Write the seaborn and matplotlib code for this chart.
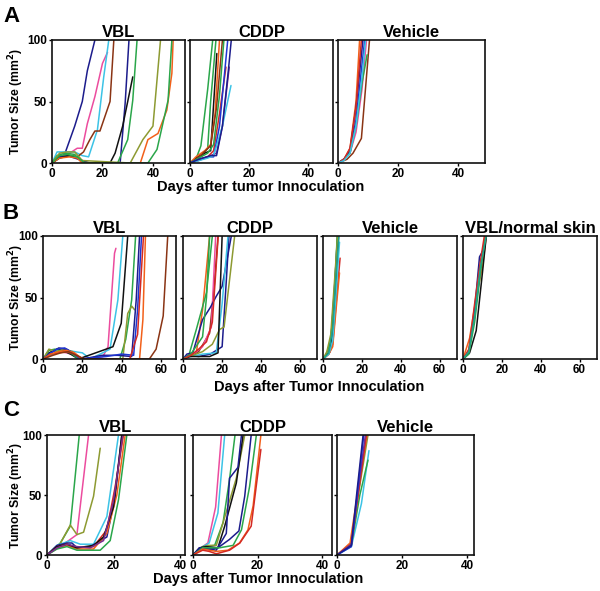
import re

import matplotlib
matplotlib.use("Agg")
import matplotlib.pyplot as plt
import seaborn as sns
import pandas as pd

# colour of each mouse trace (keys are used as mouse ids, digits stripped)
COLORS = {
    "navy": "#1c1c8c", "blue": "#2036d2", "cyan": "#3cc3e6", "pink": "#ec4c9e",
    "brown": "#8a3414", "black": "#111111", "green": "#2aa64a", "olive": "#8d9a32",
    "orange": "#f2601a", "red": "#d42a24", "purple": "#7a2c8c", "teal": "#1fa38a",
}

# ---- panel A: days after inoculation, tumour size (mm^2) ----
A_VBL = {
    "navy1": ([0, 2, 5, 9, 12, 14, 17], [0, 3, 7, 30, 50, 75, 100]),
    "pink": ([0, 3, 7, 10, 12, 14, 17, 20, 22], [0, 5, 8, 12, 12, 32, 54, 81, 90]),
    "cyan": ([0, 2, 5, 9, 12, 14.5, 18, 20.5, 22.5], [0, 9, 9, 9, 6, 5, 27, 70, 100]),
    "brown": ([0, 3, 7, 10, 12.5, 15, 17, 19, 23, 24.5], [0, 5, 6, 5, 9, 19, 26, 26, 50, 100]),
    "navy2": ([0, 3, 6, 9, 12, 15, 27, 29, 30.5], [0, 5, 6, 4, 2, 0, 0, 49, 100]),
    "black": ([0, 3, 7, 10, 13, 23, 25, 28, 32], [0, 4, 6, 5, 0, 0, 8, 30, 70]),
    "green1": ([0, 2, 5, 9, 12, 26, 30, 32, 33.7], [0, 6, 8, 7, 0, 0, 19, 51, 100]),
    "olive": ([0, 3, 6, 9, 12, 31, 36, 40, 43], [0, 8, 9, 9, 2, 0, 19, 30, 100]),
    "orange": ([0, 3, 7, 10, 12, 35, 38, 42, 45.5, 47.5, 48], [0, 4, 5, 4, 0, 0, 19, 24, 43, 73, 100]),
    "green2": ([0, 3, 6, 10, 13, 38, 41.6, 46, 47.5], [0, 6, 7, 5, 0, 0, 11, 51, 100]),
}
A_CDDP = {
    "green1": ([0, 2, 3.7, 6, 7.7], [0, 3, 14, 60, 100]),
    "green2": ([0, 2, 4, 6, 7, 8.8], [0, 3, 6, 12, 50, 100]),
    "black": ([0, 2, 5, 7, 9.1], [0, 4, 8, 10, 89]),
    "orange": ([0, 2, 5, 7, 8.5, 10], [0, 5, 10, 15, 40, 100]),
    "brown": ([0, 2, 4, 7, 9, 11], [0, 3, 7, 14, 45, 100]),
    "red": ([0, 3, 6, 8, 10, 12.2], [0, 3, 5, 10, 40, 78]),
    "green3": ([0, 3, 6, 8, 10, 11.5], [0, 4, 8, 15, 55, 100]),
    "blue": ([0, 3, 6, 8, 10, 12.8], [0, 3, 5, 5, 30, 100]),
    "purple": ([0, 3, 6, 9, 11, 13.3], [0, 2, 5, 8, 30, 78]),
    "cyan": ([0, 3, 6, 8, 11, 13.9], [0, 2, 4, 6, 30, 63]),
    "navy": ([0, 3, 7, 9, 11, 13, 14], [0, 3, 6, 6, 30, 75, 100]),
}
A_VEH = {
    "brown": ([0, 3, 5, 7.8, 10.5], [0, 3, 8, 20, 100]),
    "pink": ([0, 2.8, 4, 6, 8, 9.5], [0, 5, 8, 25, 60, 100]),
    "orange": ([0, 2, 4, 6, 7.2], [0, 3, 12, 50, 100]),
    "blue": ([0, 2, 4, 6, 8, 8.9], [0, 3, 10, 35, 80, 100]),
    "navy": ([0, 2, 4, 6, 8.3], [0, 3, 10, 45, 100]),
    "green": ([0, 2, 4, 6, 8, 9.7], [0, 3, 8, 30, 65, 88]),
    "red": ([0, 2, 4, 6, 7.8], [0, 3, 12, 45, 100]),
    "cyan": ([0, 2, 4, 6, 8, 9.2], [0, 2, 8, 30, 70, 100]),
}

# ---- panel B ----
B_VBL = {
    "pink": ([0, 4, 8, 12, 16, 20, 30.4, 33, 36.3, 37], [0, 4, 6, 5, 3, 0, 2, 10, 86, 90]),
    "cyan": ([0, 4, 8, 12, 16, 20, 24, 34, 38, 40.5], [0, 3, 6, 7, 6, 5, 0, 8, 48, 100]),
    "black": ([0, 3, 7, 10, 14, 18, 35.5, 39.7, 43], [0, 5, 8, 7, 4, 0, 10, 29, 100]),
    "green": ([0, 3, 6, 10, 14, 18, 39, 42, 45, 47], [0, 7, 8, 6, 5, 0, 0, 16, 48, 100]),
    "olive": ([0, 3, 7, 11, 15, 19, 40.5, 43, 45, 46.5], [0, 8, 6, 8, 6, 0, 0, 37, 43, 40]),
    "navy1": ([0, 4, 8, 12, 16, 20, 30, 38, 45, 47.3, 49], [0, 5, 9, 8, 4, 0, 3, 3, 2, 48, 100]),
    "blue": ([0, 3, 7, 11, 15, 19, 32, 40, 46, 48, 50], [0, 4, 8, 9, 5, 0, 2, 4, 3, 40, 100]),
    "red": ([0, 4, 8, 12, 16, 20, 44, 48, 51], [0, 4, 5, 6, 4, 0, 0, 20, 100]),
    "orange": ([0, 4, 8, 12, 16, 20, 49, 50.7, 52], [0, 4, 6, 7, 5, 0, 0, 32, 100]),
    "brown": ([0, 5, 9, 13, 17, 21, 54, 57.4, 61, 63.3], [0, 3, 5, 6, 3, 0, 0, 8, 35, 100]),
}
B_CDDP = {
    "orange": ([0, 3, 6.8, 10, 13.6], [0, 2, 5, 40, 100]),
    "green1": ([0, 3, 6.8, 12, 15], [0, 3, 24, 54, 100]),
    "brown": ([0, 4, 8, 13.6, 16, 17.9], [0, 3, 6, 21, 60, 100]),
    "pink": ([0, 4, 7, 10, 14.5, 16.7], [0, 3, 6, 10, 26, 100]),
    "navy1": ([0, 2, 5, 10, 14, 17, 20, 24.7], [0, 4, 5, 32, 42, 51, 59, 100]),
    "navy2": ([0, 3, 8, 14, 20, 22, 23.5], [0, 3, 2, 4, 10, 60, 100]),
    "cyan": ([0, 4, 10, 17, 20, 23], [0, 2, 4, 5, 45, 100]),
    "olive": ([0, 5, 10, 15, 18.7, 21, 26.4], [0, 3, 6, 12, 24, 26, 100]),
    "black": ([0, 3.4, 13.6, 17.9, 20], [0, 2, 2, 5, 100]),
    "green2": ([0, 4, 10, 12, 13.6], [0, 4, 18, 50, 100]),
    "red": ([0, 4, 8, 12, 15, 18], [0, 3, 8, 14, 30, 100]),
}
B_VEH = {
    "navy": ([0, 3.7, 6, 7.5], [0, 6, 60, 100]),
    "green": ([0, 2, 4, 6, 7.3], [0, 5, 15, 55, 100]),
    "red": ([0, 3, 5, 7, 8.8], [0, 4, 12, 50, 82]),
    "orange": ([0, 3, 5, 7, 8.5], [0, 4, 10, 45, 70]),
    "black": ([0, 3, 5, 7, 8], [0, 5, 20, 70, 100]),
    "cyan": ([0, 3, 5, 7, 8.5], [0, 4, 15, 60, 95]),
    "olive": ([0, 2, 4, 6, 7.5], [0, 6, 20, 65, 100]),
    "teal": ([0, 3, 5, 7, 8.2], [0, 5, 25, 75, 100]),
}
B_VBLNS = {
    "orange": ([0, 3.4, 6.8, 10, 12], [0, 17, 50, 75, 100]),
    "navy": ([0, 3, 6, 8.5, 10.2, 12], [0, 6, 40, 83, 88, 100]),
    "black": ([0, 3.4, 6.8, 10, 12], [0, 5, 23, 70, 100]),
    "green": ([0, 3, 6, 9, 11.5], [0, 4, 30, 70, 100]),
    "red": ([0, 3, 6, 9, 11], [0, 8, 45, 80, 100]),
    "teal": ([0, 3, 6, 9, 12], [0, 6, 35, 75, 100]),
}

# ---- panel C ----
C_VBL = {
    "green1": ([0, 4, 7, 9.7], [0, 10, 24, 100]),
    "pink": ([0, 4, 9, 12.5], [0, 7, 17, 100]),
    "olive": ([0, 3.5, 7, 9, 11, 14, 16], [0, 7, 25, 17, 19, 49, 89]),
    "cyan": ([0, 3, 7, 10, 14, 18, 21.5], [0, 8, 12, 9, 9, 32, 100]),
    "navy": ([0, 3, 6, 7.5, 9, 13, 18, 20.5, 22.5], [0, 8, 10, 10, 6, 7, 15, 49, 100]),
    "red": ([0, 3, 6, 9, 14, 18, 20.5, 23], [0, 7, 9, 6, 7, 21, 57, 100]),
    "orange": ([0, 3, 6, 9, 14, 18, 21, 23.5], [0, 6, 8, 5, 5, 18, 50, 100]),
    "green2": ([0, 3, 6, 9, 16, 19, 21.5, 24], [0, 5, 7, 4, 4, 12, 46, 100]),
    "black": ([0, 3, 6, 9, 14, 17, 20, 22.5], [0, 7, 9, 6, 8, 15, 40, 100]),
    "purple": ([0, 3, 6, 9, 13, 17, 20, 22.8], [0, 6, 9, 7, 6, 12, 45, 100]),
}
C_CDDP = {
    "pink": ([0, 2.5, 4.6, 7, 8.8], [0, 6, 10, 40, 100]),
    "cyan": ([0, 2.5, 5, 7.7, 9.8], [0, 6, 10, 35, 100]),
    "green1": ([0, 3, 6.7, 9.3, 11.3, 13], [0, 7, 8, 27, 63, 100]),
    "olive": ([0, 2, 4.6, 7.2, 13.4, 16], [0, 5, 8, 8, 64, 100]),
    "black": ([0, 2, 4, 7.7, 9.8, 13.4, 15.5], [0, 6, 7, 6, 24, 60, 100]),
    "navy1": ([0, 2, 5, 7.2, 10.3, 11.3, 13.9, 15], [0, 6, 5, 4, 18, 64, 73, 100]),
    "navy2": ([0, 2, 5, 7.7, 11.3, 14.2, 16, 18], [0, 5, 5, 6, 13, 20, 49, 100]),
    "green2": ([0, 3, 5, 8.2, 12.4, 15, 17.5, 19.6], [0, 6, 6, 6, 8, 21, 57, 100]),
    "orange": ([0, 3, 5, 7.2, 10.8, 14.4, 17, 18.6, 21], [0, 5, 4, 3, 4, 10, 21, 41, 100]),
    "red": ([0, 3, 5, 7.2, 11.3, 14.5, 18, 21], [0, 4, 3, 1, 4, 10, 24, 88]),
}
C_VEH = {
    "cyan": ([0, 4.4, 7.5, 9.8], [0, 7, 43, 87]),
    "green": ([0, 4.4, 7, 9.5], [0, 8, 50, 79]),
    "olive": ([0, 4.4, 6.5, 9.5], [0, 10, 50, 100]),
    "orange": ([0, 4, 6.5, 9.2], [0, 10, 55, 100]),
    "red": ([0, 4.4, 6.5, 9], [0, 9, 50, 100]),
    "purple": ([0, 4.4, 6.5, 8.7], [0, 9, 55, 100]),
    "blue": ([0, 4.4, 6, 8.2], [0, 7, 45, 100]),
    "navy": ([0, 4.4, 6, 8], [0, 8, 50, 100]),
}

sns.set_style("ticks")
plt.rcParams["font.family"] = ["Liberation Sans", "DejaVu Sans"]
plt.rcParams["font.weight"] = "bold"
plt.rcParams["text.color"] = "black"
plt.rcParams["xtick.color"] = "black"
plt.rcParams["ytick.color"] = "black"

W, H = 600, 591
fig = plt.figure(figsize=(6.0, 5.91), dpi=100)


def to_long(series):
    rows = []
    for mouse, (days, sizes) in series.items():
        for d, s in zip(days, sizes):
            rows.append({"mouse": mouse, "day": d, "size": s})
    return pd.DataFrame(rows)


def panel(left, right, top, bottom, series, xmax, xticks, title, show_y):
    ax = fig.add_axes([left / W, 1 - bottom / H, (right - left) / W, (bottom - top) / H])
    df = to_long(series)
    pal = {k: COLORS[re.sub(r"\d+$", "", k)] for k in series}
    sns.lineplot(data=df, x="day", y="size", hue="mouse", palette=pal,
                 estimator=None, sort=False, legend=False, lw=1.1, ax=ax)
    ax.set_xlim(0, xmax)
    ax.set_ylim(0, 100)
    ax.set_xticks(xticks)
    ax.set_yticks([0, 50, 100])
    if not show_y:
        ax.set_yticklabels([])
    ax.set_xlabel("")
    ax.set_ylabel("")
    ax.set_title(title, fontsize=12, fontweight="bold", pad=2, color="black")
    for sp in ax.spines.values():
        sp.set_visible(True)
        sp.set_linewidth(1.2)
        sp.set_color("#111111")
    ax.tick_params(direction="out", length=2.5, width=1, labelsize=8.5, pad=1.2)
    return ax


# row A
panel(52, 185, 40, 163, A_VBL, 52.7, [0, 20, 40], "VBL", True)
panel(190, 333, 40, 163, A_CDDP, 48.5, [0, 20, 40], "CDDP", False)
panel(338, 485, 40, 163, A_VEH, 49, [0, 20, 40], "Vehicle", False)

# row B
panel(43, 176, 236, 359, B_VBL, 67.5, [0, 20, 40, 60], "VBL", True)
panel(183, 317, 236, 359, B_CDDP, 68.5, [0, 20, 40, 60], "CDDP", False)
panel(323, 457, 236, 359, B_VEH, 69, [0, 20, 40, 60], "Vehicle", False)
panel(463, 597, 236, 359, B_VBLNS, 69, [0, 20, 40, 60], "VBL/normal skin", False)

# row C
panel(47, 185, 435, 555, C_VBL, 41.5, [0, 20, 40], "VBL", True)
panel(193, 332, 435, 555, C_CDDP, 43, [0, 20, 40], "CDDP", False)
panel(337, 474, 435, 555, C_VEH, 42, [0, 20, 40], "Vehicle", False)

# shared labels
for ytop, ybot in [(40, 163), (236, 359), (435, 555)]:
    fig.text(16 / W, 1 - (ytop + ybot) / 2 / H, "Tumor Size (mm$^\\mathbf{2}$)",
             rotation=90, ha="center", va="center", fontsize=8.8, fontweight="bold")

fig.text(261 / W, 1 - 187 / H, "Days after tumor Innoculation",
         ha="center", va="center", fontsize=10.5, fontweight="bold")
fig.text(319 / W, 1 - 387 / H, "Days after Tumor Innoculation",
         ha="center", va="center", fontsize=10.5, fontweight="bold")
fig.text(258 / W, 1 - 579 / H, "Days after Tumor Innoculation",
         ha="center", va="center", fontsize=10.5, fontweight="bold")

for letter, y in [("A", 6), ("B", 203), ("C", 400)]:
    fig.text(3 / W, 1 - y / H, letter, ha="left", va="top",
             fontsize=16, fontweight="bold")

fig.savefig("out.png", dpi=100)
plt.close(fig)
